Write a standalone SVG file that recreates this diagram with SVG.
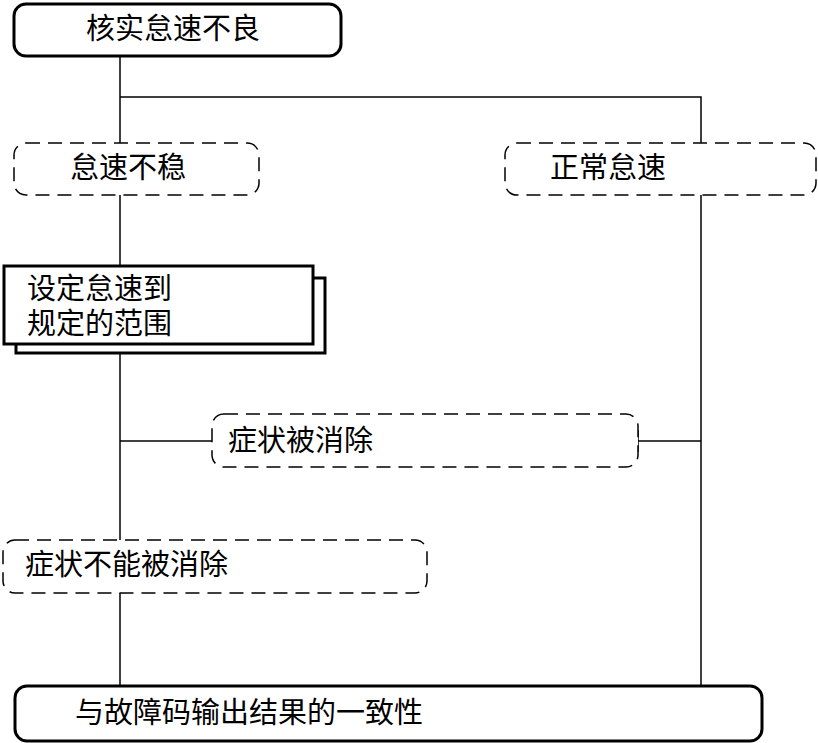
<svg xmlns="http://www.w3.org/2000/svg" width="818" height="743" viewBox="0 0 818 743">
<style>
.t{font-family:"Noto Sans CJK SC","Noto Sans CJK JP",sans-serif;font-size:29px;fill:#000}
.thick{fill:#fff;stroke:#000;stroke-width:3}
.dash{fill:#fff;stroke:#000;stroke-width:1.5;stroke-dasharray:14 8}
.ln{fill:none;stroke:#000;stroke-width:1.5}
</style>
<rect width="818" height="743" fill="#fff"/>
<g id="connectors">
<path class="ln" d="M120 56V144M120 97H701V144"/>
<path class="ln" d="M120 195V266"/>
<path class="ln" d="M120 353V540"/>
<path class="ln" d="M120 441H212"/>
<path class="ln" d="M638 441H701"/>
<path class="ln" d="M638 430V452"/>
<path class="ln" d="M701 195V686"/>
<path class="ln" d="M120 593V686"/>
</g>
<g id="n1">
<rect class="thick" x="14" y="4" width="327" height="52" rx="12"/>
<text class="t" x="173" y="39" text-anchor="middle">核实怠速不良</text>
</g>
<g id="n2">
<rect class="dash" x="14" y="143" width="245" height="52" rx="12"/>
<text class="t" x="70" y="178">怠速不稳</text>
</g>
<g id="n3">
<rect class="dash" x="505" y="143" width="311" height="52" rx="12"/>
<text class="t" x="550" y="178">正常怠速</text>
</g>
<g id="n4">
<rect class="thick" x="16" y="278" width="309" height="75"/>
<rect class="thick" x="4" y="266" width="309" height="78"/>
<text class="t"><tspan x="27" y="299">设定怠速到</tspan><tspan x="27" y="334">规定的范围</tspan></text>
</g>
<g id="n5">
<rect class="dash" x="212" y="414" width="426" height="53" rx="12"/>
<text class="t" x="228" y="451">症状被消除</text>
</g>
<g id="n6">
<rect class="dash" x="3" y="540" width="424" height="53" rx="12"/>
<text class="t" x="25" y="575">症状不能被消除</text>
</g>
<g id="n7">
<rect class="thick" x="15" y="686" width="747" height="55" rx="12"/>
<text class="t" x="75" y="723">与故障码输出结果的一致性</text>
</g>
</svg>
